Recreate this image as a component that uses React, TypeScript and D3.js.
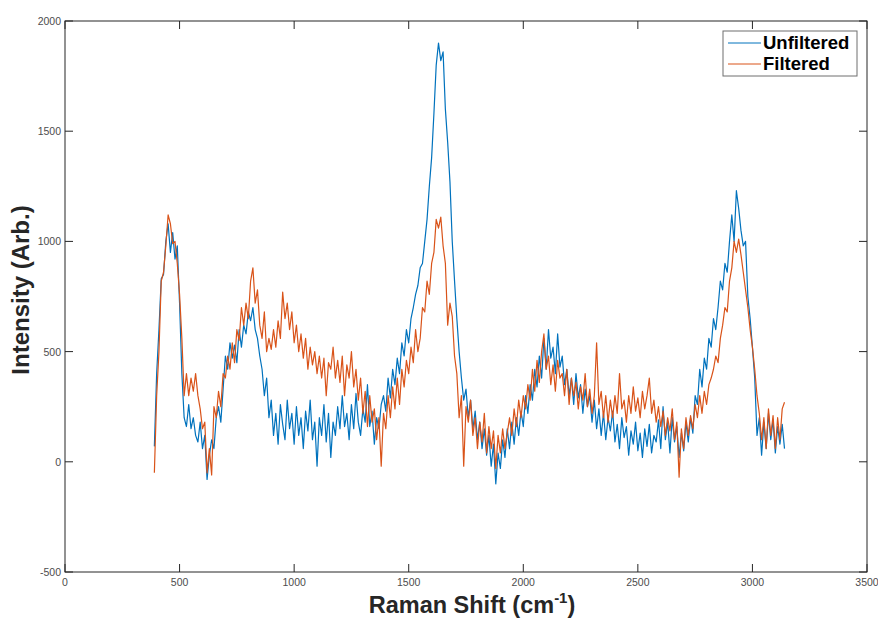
import * as d3 from "d3";

// wavenumber grid (cm^-1), 10 cm^-1 spacing
const shiftStart = 390;
const shiftStep = 10;

const unfiltered = [
  70, 400, 600, 830, 850, 1000, 1080, 950, 1040, 920,
  980, 720, 400, 200, 160, 260, 150, 200, 120, 90,
  180, 60, 120, -80, 30, 100, 60, 200, 250, 180,
  330, 480, 420, 540, 470, 530, 450, 600, 520, 620,
  580, 680, 640, 700, 600, 560, 480, 420, 300, 380,
  200, 280, 120, 220, 80, 260, 170, 100, 280, 150,
  220, 80, 250, 120, 200, 60, 230, 140, 280, 100,
  180, -20, 200, 120, 260, 90, 220, 20, 180, 120,
  250, 150, 300, 160, 220, 100, 260, 150, 310, 180,
  120, 240, 180, 350, 160, 230, 80, 200, 150, 260,
  300, 230, 380, 290, 420, 350, 470, 400, 540, 480,
  600, 540, 650, 700, 760, 800, 880, 900, 1000, 1100,
  1250, 1380, 1580, 1800, 1900, 1820, 1860, 1600, 1450, 1270,
  1000, 820, 650, 500, 380, 280, 330, 200, 280, 150,
  230, 100, 180, 60, 150, 30, 120, -20, 80, -100,
  40, -30, 100, 20, 150, 60, 180, 80, 200, 120,
  230, 160, 300, 220, 350, 280, 420, 340, 480, 380,
  560, 420, 600, 470, 520, 400, 580, 430, 480, 350,
  420, 300, 380, 260, 400, 290, 350, 220, 330, 250,
  300, 180, 280, 150, 240, 120, 220, 100, 200, 140,
  230, 90, 170, 60, 200, 110, 160, 30, 140, 80,
  180, 50, 130, 20, 150, 70, 170, 40, 120, 90,
  190, 60, 250, 100, 180, 40, 200, 90, 160, 20,
  130, 50, 180, 90, 200, 130, 300, 260, 420, 340,
  470, 420, 560, 520, 650, 600, 700, 820, 780, 900,
  860, 1000, 1120, 1000, 1230, 1150, 1050, 980, 1000, 750,
  650, 520, 380, 120, 200, 30, 180, 60, 220, 100,
  190, 40, 160, 80, 170, 60,
];

const filtered = [
  -50, 300, 500, 820, 860, 980, 1120, 1080, 990, 1000,
  900, 760, 560, 300, 400, 300, 380, 320, 400, 300,
  240, 150, 180, -50, 60, -60, 250, 200, 320, 250,
  400, 380, 480, 420, 540, 450, 600, 550, 700, 620,
  720, 650, 820, 880, 720, 780, 620, 560, 680, 500,
  560, 510, 600, 520, 640, 560, 770, 650, 720, 600,
  680, 540, 620, 500, 580, 470, 560, 420, 520, 440,
  500, 400, 480, 380, 470, 300, 450, 420, 520, 380,
  460, 360, 480, 300, 440, 380, 500, 340, 420, 280,
  380, 220, 320, 160, 300, 180, 240, 100, 200, -20,
  220, 150, 300, 200, 340, 240, 380, 260, 420, 340,
  460, 400, 520, 450, 600, 500, 560, 700, 680, 820,
  760, 900, 950, 1100, 1060, 1110, 980, 900, 620, 720,
  660, 480, 400, 200, 300, -20, 250, 180, 280, 120,
  200, 60, 180, 90, 220, 40, 160, 60, 140, -30,
  120, 40, 150, 60, 130, 200, 120, 240, 160, 280,
  200, 300, 240, 350, 280, 420, 320, 460, 360, 500,
  580, 420, 480, 350, 440, 320, 460, 380, 400, 300,
  420, 260, 380, 300, 360, 240, 340, 280, 400, 250,
  330, 220, 300, 540, 260, 320, 200, 300, 180, 280,
  200, 300, 220, 400, 240, 280, 180, 300, 220, 340,
  230, 290, 200, 320, 240, 300, 380, 220, 280, 180,
  250, 160, 230, 120, 200, 140, 240, 100, 180, -70,
  150, 60, 200, 120, 210, 150, 260, 200, 300, 220,
  320, 260, 350, 380, 420, 480, 450, 560, 620, 700,
  680, 820, 880, 1000, 950, 1010, 940, 860, 780, 700,
  600, 520, 420, 300, 220, 100, 200, 60, 240, 120,
  210, 60, 200, 100, 240, 270,
];

const xTicks = [0, 500, 1000, 1500, 2000, 2500, 3000, 3500];
const yTicks = [-500, 0, 500, 1000, 1500, 2000];
const seriesNames = ["Unfiltered", "Filtered"];
const seriesColors = ["#0072BD", "#D95319"];

const W = 878;
const H = 619;
const plot = { left: 65, right: 867, top: 21, bottom: 572 };
const axisColor = "#262626";
const tickColor = "#4d4d4d";
const tickLen = 8;

export default function App() {
  const x = d3.scaleLinear().domain([0, 3500]).range([plot.left, plot.right]);
  const y = d3.scaleLinear().domain([-500, 2000]).range([plot.bottom, plot.top]);

  const line = d3
    .line<number>()
    .x((_, i) => x(shiftStart + i * shiftStep))
    .y((d) => y(d));

  const series = [unfiltered, filtered];

  return (
    <svg
      width={W}
      height={H}
      style={{ position: "absolute", left: 0, top: 0, background: "#fff" }}
      fontFamily="'Liberation Sans', Arial, Helvetica, sans-serif"
    >
      <rect x={0} y={0} width={W} height={H} fill="#fff" />

      {/* data lines */}
      {series.map((s, k) => (
        <path
          key={seriesNames[k]}
          d={line(s) ?? ""}
          fill="none"
          stroke={seriesColors[k]}
          strokeWidth={1.2}
          strokeLinejoin="round"
        />
      ))}

      {/* box */}
      <rect
        x={plot.left}
        y={plot.top}
        width={plot.right - plot.left}
        height={plot.bottom - plot.top}
        fill="none"
        stroke={axisColor}
        strokeWidth={1}
      />

      {/* x ticks */}
      {xTicks.map((t) => (
        <g key={"x" + t}>
          <line x1={x(t)} x2={x(t)} y1={plot.bottom} y2={plot.bottom - tickLen} stroke={axisColor} />
          <line x1={x(t)} x2={x(t)} y1={plot.top} y2={plot.top + tickLen} stroke={axisColor} />
          <text x={x(t)} y={plot.bottom + 14} textAnchor="middle" fontSize={10.5} fill={tickColor}>
            {t}
          </text>
        </g>
      ))}

      {/* y ticks */}
      {yTicks.map((t) => (
        <g key={"y" + t}>
          <line x1={plot.left} x2={plot.left + tickLen} y1={y(t)} y2={y(t)} stroke={axisColor} />
          <line x1={plot.right} x2={plot.right - tickLen} y1={y(t)} y2={y(t)} stroke={axisColor} />
          <text x={plot.left - 4} y={y(t) + 4} textAnchor="end" fontSize={10.5} fill={tickColor}>
            {t}
          </text>
        </g>
      ))}

      {/* axis labels */}
      <text x={472} y={613} textAnchor="middle" fontSize={23.5} fontWeight="bold" fill="#262626">
        Raman Shift (cm
        <tspan dy={-10} fontSize={15}>-1</tspan>
        <tspan dy={10}>)</tspan>
      </text>
      <text
        transform={`translate(29, 290) rotate(-90)`}
        textAnchor="middle"
        fontSize={24}
        fontWeight="bold"
        fill="#262626"
      >
        Intensity (Arb.)
      </text>

      {/* legend */}
      <g>
        <rect x={723} y={31} width={134} height={45} fill="#fff" stroke="#6e6e6e" strokeWidth={1} />
        {seriesNames.map((name, k) => (
          <g key={name}>
            <line
              x1={728}
              x2={761}
              y1={43 + k * 21}
              y2={43 + k * 21}
              stroke={seriesColors[k]}
              strokeWidth={1}
            />
            <text x={763} y={49 + k * 21} fontSize={18.5} fontWeight="bold" fill="#000">
              {name}
            </text>
          </g>
        ))}
      </g>
    </svg>
  );
}
